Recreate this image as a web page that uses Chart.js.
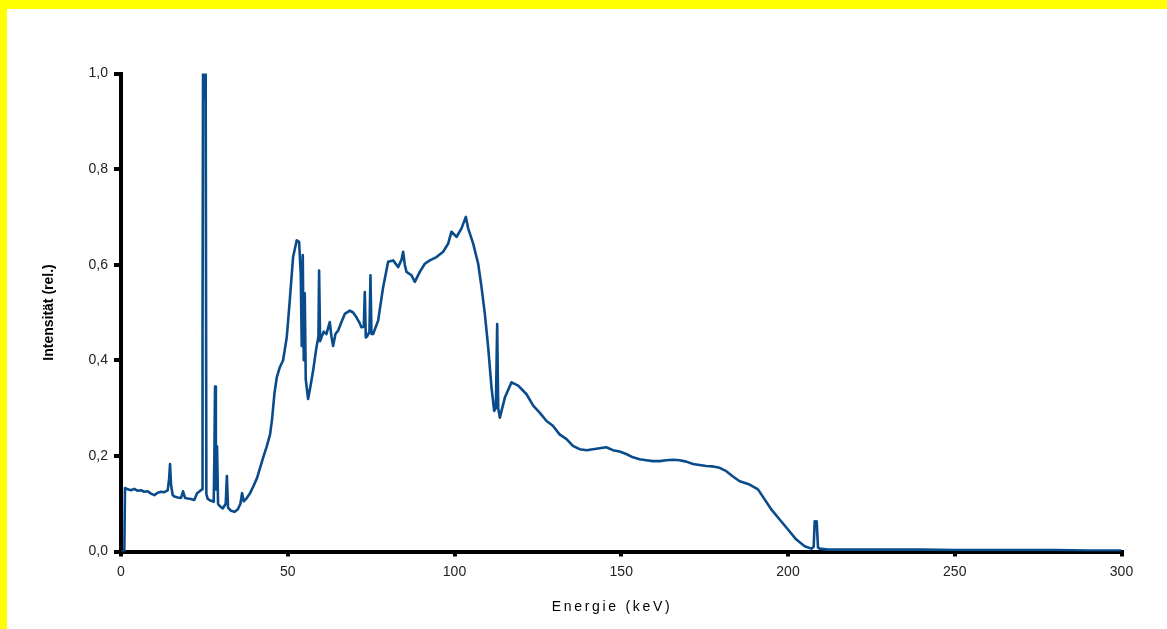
<!DOCTYPE html>
<html>
<head>
<meta charset="utf-8">
<script src="https://cdn.jsdelivr.net/npm/chart.js@4"></script>
<style>
  body { margin: 0; background: #ffff00; }
  #wrap { position: absolute; left: 7px; top: 9px; width: 1160px; height: 620px; background: #fff; }
</style>
</head>
<body>
<div id="wrap"><canvas id="spectrum" width="1160" height="620"></canvas></div>
<script>
// Spektrum (keV / rel. Intensität)
var energy = [
  0, 1.0, 1.2, 2, 3, 4, 5, 6, 7, 8, 9, 10, 11, 12, 13, 14, 14.4, 14.7, 15.0, 15.5,
  16, 17, 18, 18.6, 19.2, 20, 21, 22, 22.8, 23.6, 24.3, 24.45, 24.6, 25.2, 25.4, 25.6,
  26, 27, 27.8, 28.0, 28.2, 28.45, 28.8, 29.1, 29.6, 30.5, 31.4, 31.75, 32.1, 33, 34,
  35, 35.8, 36.3, 36.8, 37.5, 38.7, 39.8, 40.8, 41.7, 42.6, 43.7, 44.7, 45.3, 46.0,
  46.7, 47.6, 48.6, 49.7, 50.6, 51.6, 52.7, 53.4, 53.9, 54.2, 54.5, 54.8, 55.1, 55.4,
  56.1, 56.8, 57.6, 58.6, 59.2, 59.4, 59.7, 60.1, 60.8, 61.6, 62.2, 62.6, 63.1, 63.6,
  64.3, 65.1, 66.1, 67.1, 68.6, 69.6, 70.6, 71.4, 72.1, 72.8, 73.1, 73.4, 73.8, 74.5,
  74.8, 75.1, 75.6, 77.1, 78.6, 80.1, 81.6, 83.1, 84.1, 84.6, 85.1, 85.6, 87.1, 88.1,
  89.6, 91.1, 92.6, 94.6, 96.6, 98.1, 99.1, 100.6, 102.1, 103.4, 104.1, 105.6, 107.1,
  108.1, 109.1, 110.1, 111.1, 111.9, 112.4, 112.8, 113.1, 113.6, 115.1, 117.1, 119.1,
  121.6, 123.6, 125.6, 127.6, 129.5, 131.5, 133.6, 135.5, 137.5, 139.6, 141.5, 143.5,
  145.5, 147.5, 149.5, 151.5, 153.5, 155.5, 157.5, 159.5, 161.5, 163.5, 165.5, 167.5,
  169.5, 171.5, 173.5, 175.5, 177.5, 179.5, 181.5, 183.5, 185.5, 188.5, 191.0, 193.0,
  195.0, 197.5, 200.0, 202.5, 205.0, 207.0, 207.7, 208.0, 208.3, 208.6, 209.0, 209.5,
  212, 220, 230, 240, 250, 260, 270, 280, 290, 300
];
var intensity = [
  0, 0, 0.133, 0.13, 0.128, 0.131, 0.127, 0.128, 0.125, 0.126, 0.121, 0.118, 0.123, 0.125, 0.124, 0.128, 0.15, 0.183, 0.14, 0.118,
  0.115, 0.113, 0.112, 0.126, 0.112, 0.111, 0.11, 0.108, 0.122, 0.126, 0.13, 0.47, 1.0, 1.0, 0.94, 0.12,
  0.11, 0.106, 0.104, 0.2, 0.345, 0.13, 0.22, 0.1, 0.095, 0.09, 0.1, 0.158, 0.092, 0.085, 0.083,
  0.088, 0.1, 0.122, 0.105, 0.11, 0.122, 0.138, 0.154, 0.175, 0.196, 0.22, 0.245, 0.277, 0.33,
  0.364, 0.385, 0.40, 0.448, 0.525, 0.616, 0.651, 0.648, 0.58, 0.43, 0.62, 0.40, 0.54, 0.36,
  0.319, 0.345, 0.378, 0.427, 0.45, 0.588, 0.44, 0.448, 0.46, 0.455, 0.47, 0.48, 0.45, 0.43,
  0.455, 0.462, 0.48, 0.497, 0.504, 0.50, 0.49, 0.48, 0.469, 0.47, 0.543, 0.448, 0.45, 0.46,
  0.578, 0.455, 0.455, 0.483, 0.553, 0.606, 0.609, 0.595, 0.61, 0.627, 0.60, 0.585, 0.578, 0.564,
  0.585, 0.602, 0.609, 0.616, 0.627, 0.644, 0.669, 0.658, 0.676, 0.70, 0.676, 0.644, 0.602,
  0.553, 0.497, 0.427, 0.343, 0.294, 0.30, 0.476, 0.30, 0.28, 0.322, 0.354, 0.347,
  0.329, 0.305, 0.29, 0.273, 0.263, 0.245, 0.235, 0.221, 0.214, 0.212, 0.214, 0.216,
  0.218, 0.212, 0.209, 0.204, 0.197, 0.193, 0.191, 0.189, 0.189, 0.191, 0.192, 0.191,
  0.188, 0.183, 0.181, 0.179, 0.178, 0.175, 0.168, 0.157, 0.147, 0.140, 0.130, 0.109,
  0.088, 0.067, 0.046, 0.025, 0.011, 0.006, 0.01, 0.063, 0.05, 0.063, 0.008, 0.006,
  0.004, 0.004, 0.004, 0.004, 0.003, 0.003, 0.003, 0.003, 0.002, 0.002
];
var xTicks = [0, 50, 100, 150, 200, 250, 300];
var yTicks = [0, 0.2, 0.4, 0.6, 0.8, 1.0];

var fontFam = '"Liberation Sans", Arial, sans-serif';

var points = [];
for (var i = 0; i < energy.length; i++) {
    points.push({x: energy[i], y: intensity[i]});
}

// x-Achsentitel mit Sperrschrift
var xTitlePlugin = {
    id: 'xTitle',
    afterDraw: function(chart) {
        var ctx = chart.ctx;
        ctx.save();
        ctx.font = '14px ' + fontFam;
        ctx.fillStyle = '#000';
        ctx.textAlign = 'center';
        ctx.textBaseline = 'middle';
        ctx.letterSpacing = '2.7px';
        ctx.fillText('Energie (keV)', 605, 598);
        ctx.restore();
    }
};

var ctx = document.getElementById('spectrum').getContext('2d');
var myChart = new Chart(ctx, {
    type: 'line',
    data: {
        datasets: [{
            data: points,
            borderColor: '#0a4b8c',
            borderWidth: 2.6,
            borderJoinStyle: 'round',
            pointRadius: 0,
            tension: 0,
            fill: false
        }]
    },
    options: {
        responsive: false,
        animation: false,
        events: [],
        layout: { padding: { top: 64.5, right: 45.5, left: 0, bottom: 0 } },
        plugins: { legend: { display: false }, tooltip: { enabled: false } },
        scales: {
            x: {
                type: 'linear',
                min: 0,
                max: 300,
                afterBuildTicks: function(axis) {
                    axis.ticks = xTicks.map(function(v) { return {value: v}; });
                },
                afterFit: function(axis) { axis.height = 77.5; },
                grid: { drawOnChartArea: false, color: '#000', lineWidth: 4, tickLength: 5 },
                border: { display: true, color: '#000', width: 4 },
                ticks: {
                    color: '#222',
                    padding: 7,
                    maxRotation: 0,
                    font: { family: fontFam, size: 14 }
                }
            },
            y: {
                min: 0,
                max: 1,
                afterBuildTicks: function(axis) {
                    axis.ticks = yTicks.map(function(v) { return {value: v}; });
                },
                afterFit: function(axis) { axis.width = 114; },
                grid: { drawOnChartArea: false, color: '#000', lineWidth: 4, tickLength: 7 },
                border: { display: true, color: '#000', width: 4 },
                ticks: {
                    color: '#222',
                    padding: 6,
                    font: { family: fontFam, size: 14 },
                    callback: function(v) { return v.toFixed(1).replace('.', ','); }
                },
                title: {
                    display: true,
                    text: 'Intensität (rel.)',
                    color: '#000',
                    font: { family: fontFam, size: 14, weight: 'bold' },
                    padding: { top: 34, bottom: 0 }
                }
            }
        }
    },
    plugins: [xTitlePlugin]
});
</script>
</body>
</html>
